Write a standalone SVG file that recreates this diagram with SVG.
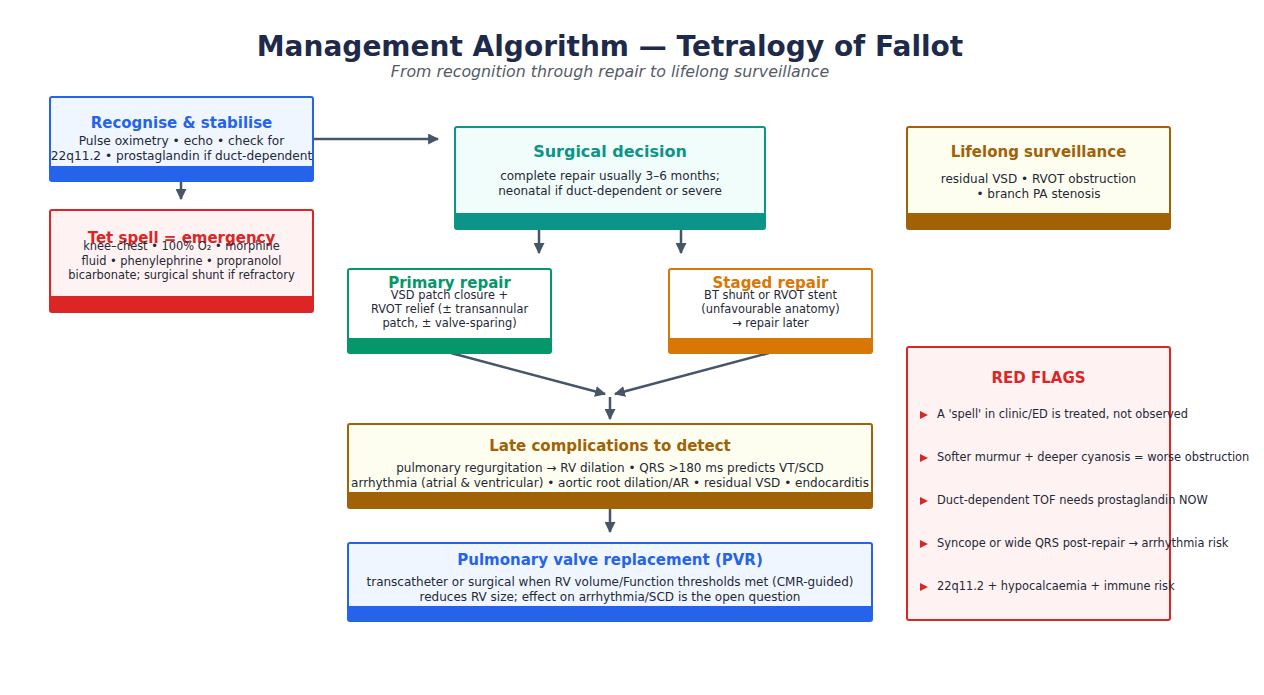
<svg xmlns="http://www.w3.org/2000/svg" width="1264" height="695" viewBox="0 0 1264 695">
<defs>
<marker id="ah" viewBox="0 0 10 10" refX="9" refY="5" markerWidth="4.4" markerHeight="4.4" orient="auto" markerUnits="strokeWidth">
<path d="M0,0 L10,5 L0,10 z" fill="#475569"/>
</marker>
<style>
text{font-family:"DejaVu Sans","Liberation Sans",sans-serif;}
.t{font-weight:bold;text-anchor:middle;}
.b{fill:#1f2937;text-anchor:middle;}
.c line{stroke:#475569;stroke-width:2.5;marker-end:url(#ah);fill:none;}
.rf{fill:#1f2937;font-size:11.4px;}
.tri{fill:#dc2626;}
</style>
</defs>
<rect width="1264" height="695" fill="#ffffff"/>
<text x="610" y="56" class="t" font-size="28" fill="#1e2a4a">Management Algorithm — Tetralogy of Fallot</text>
<text x="610" y="77" text-anchor="middle" font-size="15.8" font-style="italic" fill="#555b66">From recognition through repair to lifelong surveillance</text>

<g class="c" id="connectors">
<line x1="313" y1="139" x2="438" y2="139"/>
<line x1="181" y1="182" x2="181" y2="199"/>
<line x1="539" y1="229" x2="539" y2="253"/>
<line x1="681" y1="229" x2="681" y2="253"/>
<line x1="451" y1="353" x2="605" y2="394"/>
<line x1="769" y1="353" x2="615" y2="394"/>
<line x1="610" y1="397" x2="610" y2="419"/>
<line x1="610" y1="508" x2="610" y2="532"/>
</g>

<g id="recognise">
<rect x="50" y="97" width="263" height="84" rx="2" fill="#eff6ff" stroke="#2563eb" stroke-width="2"/>
<rect x="50" y="166" width="263" height="15" fill="#2563eb"/>
<text x="181.5" y="128" class="t" font-size="15" fill="#2563eb">Recognise &amp; stabilise</text>
<text x="181.5" y="145" class="b" font-size="12.2">Pulse oximetry • echo • check for</text>
<text x="181.5" y="160" class="b" font-size="12.2">22q11.2 • prostaglandin if duct-dependent</text>
</g>

<g id="tetspell">
<rect x="50" y="210" width="263" height="102" rx="2" fill="#fef2f2" stroke="#dc2626" stroke-width="2"/>
<rect x="50" y="296" width="263" height="16" fill="#dc2626"/>
<text x="181.5" y="243" class="t" font-size="15" fill="#dc2626">Tet spell = emergency</text>
<text x="181.5" y="250" class="b" font-size="11.4">knee–chest • 100% O₂ • morphine</text>
<text x="181.5" y="264.5" class="b" font-size="11.4">fluid • phenylephrine • propranolol</text>
<text x="181.5" y="278.5" class="b" font-size="11.4">bicarbonate; surgical shunt if refractory</text>
</g>

<g id="surgical">
<rect x="455" y="127" width="310" height="102" rx="2" fill="#f0fdfa" stroke="#0d9488" stroke-width="2"/>
<rect x="455" y="213" width="310" height="16" fill="#0d9488"/>
<text x="610" y="157" class="t" font-size="16" fill="#0d9488">Surgical decision</text>
<text x="610" y="180" class="b" font-size="12">complete repair usually 3–6 months;</text>
<text x="610" y="195" class="b" font-size="12">neonatal if duct-dependent or severe</text>
</g>

<g id="lifelong">
<rect x="907" y="127" width="263" height="102" rx="2" fill="#fefef0" stroke="#a16207" stroke-width="2"/>
<rect x="907" y="213" width="263" height="16" fill="#a16207"/>
<text x="1038.5" y="157" class="t" font-size="15" fill="#a16207">Lifelong surveillance</text>
<text x="1038.5" y="183" class="b" font-size="12">residual VSD • RVOT obstruction</text>
<text x="1038.5" y="198" class="b" font-size="12">• branch PA stenosis</text>
</g>

<g id="primary">
<rect x="348" y="269" width="203" height="84" rx="2" fill="#ffffff" stroke="#059669" stroke-width="2"/>
<rect x="348" y="338" width="203" height="15" fill="#059669"/>
<text x="449.5" y="288" class="t" font-size="15" fill="#059669">Primary repair</text>
<text x="449.5" y="299" class="b" font-size="11.4">VSD patch closure +</text>
<text x="449.5" y="313" class="b" font-size="11.4">RVOT relief (± transannular</text>
<text x="449.5" y="327" class="b" font-size="11.4">patch, ± valve-sparing)</text>
</g>

<g id="staged">
<rect x="669" y="269" width="203" height="84" rx="2" fill="#ffffff" stroke="#d97706" stroke-width="2"/>
<rect x="669" y="338" width="203" height="15" fill="#d97706"/>
<text x="770.5" y="288" class="t" font-size="15" fill="#d97706">Staged repair</text>
<text x="770.5" y="299" class="b" font-size="11.4">BT shunt or RVOT stent</text>
<text x="770.5" y="313" class="b" font-size="11.4">(unfavourable anatomy)</text>
<text x="770.5" y="327" class="b" font-size="11.4">→ repair later</text>
</g>

<g id="late">
<rect x="348" y="424" width="524" height="84" rx="2" fill="#fefef0" stroke="#a16207" stroke-width="2"/>
<rect x="348" y="492" width="524" height="16" fill="#a16207"/>
<text x="610" y="451" class="t" font-size="15" fill="#a16207">Late complications to detect</text>
<text x="610" y="472" class="b" font-size="12">pulmonary regurgitation → RV dilation • QRS &gt;180 ms predicts VT/SCD</text>
<text x="610" y="487" class="b" font-size="12">arrhythmia (atrial &amp; ventricular) • aortic root dilation/AR • residual VSD • endocarditis</text>
</g>

<g id="pvr">
<rect x="348" y="543" width="524" height="78" rx="2" fill="#eff6ff" stroke="#2563eb" stroke-width="2"/>
<rect x="348" y="606" width="524" height="15" fill="#2563eb"/>
<text x="610" y="565" class="t" font-size="15" fill="#2563eb">Pulmonary valve replacement (PVR)</text>
<text x="610" y="586" class="b" font-size="12">transcatheter or surgical when RV volume/Function thresholds met (CMR-guided)</text>
<text x="610" y="601" class="b" font-size="12">reduces RV size; effect on arrhythmia/SCD is the open question</text>
</g>

<g id="redflags">
<rect x="907" y="347" width="263" height="273" rx="2" fill="#fef2f2" stroke="#dc2626" stroke-width="2"/>
<text x="1038.5" y="383" class="t" font-size="15" fill="#dc2626">RED FLAGS</text>
<path class="tri" d="M920,411 L928,415 L920,419 z"/>
<text x="937" y="418" class="rf">A 'spell' in clinic/ED is treated, not observed</text>
<path class="tri" d="M920,454 L928,458 L920,462 z"/>
<text x="937" y="461" class="rf">Softer murmur + deeper cyanosis = worse obstruction</text>
<path class="tri" d="M920,497 L928,501 L920,505 z"/>
<text x="937" y="504" class="rf">Duct-dependent TOF needs prostaglandin NOW</text>
<path class="tri" d="M920,540 L928,544 L920,548 z"/>
<text x="937" y="547" class="rf">Syncope or wide QRS post-repair → arrhythmia risk</text>
<path class="tri" d="M920,583 L928,587 L920,591 z"/>
<text x="937" y="590" class="rf">22q11.2 + hypocalcaemia + immune risk</text>
</g>
</svg>
